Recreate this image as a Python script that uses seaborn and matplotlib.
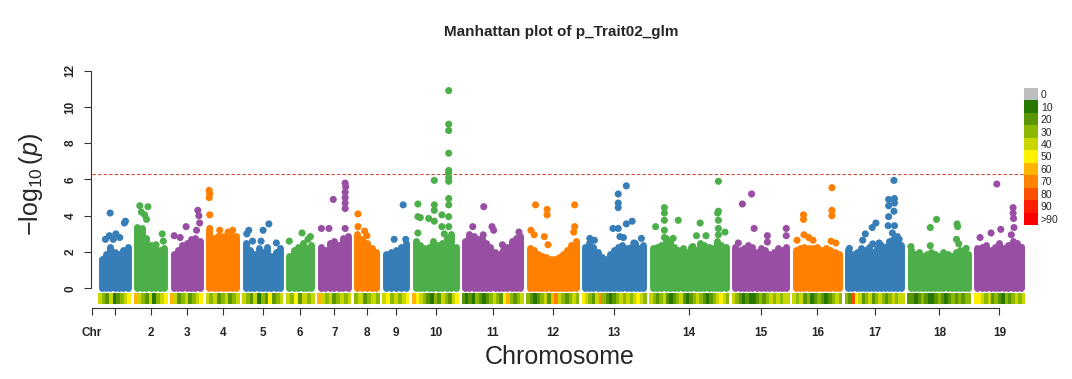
import numpy as np
import pandas as pd
import matplotlib
matplotlib.use('Agg')
import matplotlib.pyplot as plt
from matplotlib.colors import ListedColormap
import seaborn as sns

# chromosomes (lengths in plot units)
chrom_names = [str(i) for i in range(1, 20)]
chrom_lengths = [26, 27, 26, 27, 34, 22, 27, 19, 20, 40, 55, 46, 58, 73, 51, 43, 53, 57, 44]
chrom_gap = 9.55

# upper edge of the dense block of SNPs, left to right, per chromosome
bulk_tops = [
    [1.6, 1.9, 2.3, 2.0, 1.9, 2.1, 2.3],
    [3.4, 3.3, 2.8, 2.4, 2.2, 2.1, 2.2],
    [1.9, 2.1, 2.4, 2.5, 2.7, 2.8, 2.6],
    [3.2, 2.8, 2.9, 2.9, 2.8, 2.9, 2.9],
    [2.5, 2.1, 1.9, 2.2, 2.0, 2.3, 1.8, 2.0, 2.2],
    [1.8, 2.1, 2.3, 2.5, 2.2, 2.4],
    [2.3, 2.1, 2.5, 2.6, 2.4, 2.8, 2.9],
    [3.0, 2.7, 2.5, 2.2, 2.0],
    [1.9, 2.0, 2.1, 2.3, 2.5],
    [2.6, 2.4, 2.2, 2.3, 2.6, 2.4, 2.5, 2.8, 3.0, 2.3],
    [2.6, 3.0, 2.9, 2.7, 2.8, 2.5, 2.3, 2.0, 1.9, 2.1, 2.3, 2.6, 2.8, 2.9],
    [2.2, 2.1, 1.9, 1.8, 1.7, 1.6, 1.6, 1.7, 1.9, 2.1, 2.4, 2.6],
    [2.3, 2.5, 2.3, 2.0, 1.7, 1.6, 1.9, 2.1, 2.3, 2.4, 2.2, 2.3, 2.5, 2.2, 2.4],
    [2.2, 2.3, 2.4, 2.8, 2.6, 2.3, 2.1, 2.2, 2.0, 2.3, 2.1, 2.5, 2.4, 2.3, 2.2, 2.6, 2.4, 2.3],
    [2.3, 2.1, 2.2, 2.4, 2.3, 2.0, 2.2, 2.1, 1.9, 2.0, 2.2, 2.1, 2.3],
    [2.1, 2.2, 2.3, 2.2, 2.2, 2.3, 2.1, 2.2, 2.1, 2.0, 1.9],
    [2.1, 1.9, 2.0, 2.2, 2.1, 2.3, 2.0, 2.2, 2.4, 2.3, 2.6, 2.7, 2.9, 2.4],
    [2.1, 1.9, 2.0, 1.8, 1.9, 2.0, 1.9, 1.8, 2.0, 1.9, 1.8, 2.0, 2.1, 2.0, 1.9],
    [2.2, 2.3, 2.4, 2.1, 2.3, 2.5, 2.2, 2.4, 2.6, 2.5, 2.3],
]

# scattered SNPs above the dense block: chromosome, relative position, -log10(p)
hit_chr = [1, 1, 1, 1, 1, 1, 1, 1,
           2, 2, 2, 2, 2, 2, 2, 2,
           3, 3, 3, 3, 3, 3, 3,
           4, 4, 4, 4, 4, 4, 4, 4,
           5, 5, 5, 5, 5, 5, 5,
           6, 6, 6, 6,
           7, 7, 7, 7, 7, 7, 7, 7, 7, 7,
           8, 8, 8, 8,
           9, 9, 9,
           10, 10, 10, 10, 10, 10, 10, 10, 10, 10, 10, 10, 10, 10, 10, 10, 10, 10, 10, 10, 10, 10, 10, 10,
           11, 11, 11, 11, 11, 11, 11,
           12, 12, 12, 12, 12, 12, 12, 12, 12, 12,
           13, 13, 13, 13, 13, 13, 13, 13, 13, 13, 13, 13, 13, 13,
           14, 14, 14, 14, 14, 14, 14, 14, 14, 14, 14, 14, 14, 14, 14, 14, 14, 14, 14,
           15, 15, 15, 15, 15, 15, 15, 15,
           16, 16, 16, 16, 16, 16, 16, 16, 16, 16, 16,
           17, 17, 17, 17, 17, 17, 17, 17, 17, 17, 17, 17, 17, 17, 17, 17, 17, 17,
           18, 18, 18, 18, 18, 18, 18, 18, 18,
           19, 19, 19, 19, 19, 19, 19, 19, 19, 19]
hit_pos = [0.15, 0.33, 0.30, 0.45, 0.55, 0.70, 0.88, 0.92,
           0.10, 0.40, 0.16, 0.28, 0.35, 0.93, 0.97, 0.70,
           0.93, 0.97, 1.00, 0.48, 0.88, 0.02, 0.25,
           0.00, 0.02, 0.00, 0.02, 0.02, 0.39, 0.70, 0.87,
           0.09, 0.03, 0.68, 0.51, 0.20, 0.45, 0.90,
           0.58, 0.96, 0.00, 0.85,
           0.90, 0.92, 0.90, 0.90, 0.90, 0.90, 0.46, 0.02, 0.30, 0.90,
           0.03, 0.03, 0.38, 0.50,
           0.86, 0.41, 0.99,
           0.83, 0.83, 0.83, 0.83, 0.83, 0.83, 0.83, 0.83, 0.83, 0.83, 0.83, 0.83,
           0.47, 0.06, 0.47, 0.47, 0.06, 0.12, 0.33, 0.47, 0.66, 0.66, 0.06, 0.72,
           0.34, 0.14, 0.49, 0.52, 0.68, 0.98, 0.33,
           0.13, 0.38, 0.38, 0.98, 0.98, 0.96, 0.03, 0.10, 0.32, 0.40,
           0.71, 0.57, 0.57, 0.57, 0.48, 0.57, 0.71, 0.81, 0.60, 0.66, 0.08, 0.16, 0.97, 0.84,
           0.90, 0.90, 0.89, 0.90, 0.90, 0.90, 0.99, 0.16, 0.16, 0.16, 0.16, 0.16, 0.04, 0.35, 0.65, 0.60, 0.73, 0.55, 0.28,
           0.32, 0.14, 0.37, 0.63, 0.63, 1.00, 1.00, 0.06,
           0.84, 0.84, 0.84, 0.18, 0.18, 0.19, 0.03, 0.30, 0.40, 0.82, 0.93,
           0.86, 0.76, 0.87, 0.87, 0.76, 0.86, 0.76, 0.87, 0.75, 0.83, 0.96, 0.52, 0.45, 0.32, 0.27, 0.46, 0.58, 0.02,
           0.45, 0.34, 0.81, 0.82, 0.80, 0.84, 0.97, 0.00, 0.34,
           0.44, 0.81, 0.81, 0.82, 0.83, 0.53, 0.31, 0.06, 0.77, 1.00]
hit_val = [2.7, 4.15, 2.9, 2.7, 3.0, 2.8, 3.6, 3.7,
           4.55, 4.5, 4.2, 4.05, 3.8, 3.0, 2.6, 2.4,
           4.3, 4.0, 3.6, 3.4, 3.2, 2.9, 2.8,
           5.4, 5.2, 5.0, 4.05, 3.3, 3.2, 3.1, 3.2,
           3.2, 3.0, 3.55, 3.2, 2.6, 2.6, 2.5,
           3.05, 2.85, 2.6, 2.7,
           5.8, 5.6, 5.3, 5.0, 4.7, 4.4, 4.9, 3.3, 3.3, 3.3,
           4.1, 3.4, 3.15, 2.9,
           4.6, 2.7, 2.7,
           10.9, 9.05, 8.7, 7.45, 6.5, 6.35, 6.1, 5.9, 4.95, 4.6, 3.95, 3.4,
           5.95, 4.65, 4.6, 4.3, 3.95, 3.9, 3.85, 3.7, 4.05, 3.4, 3.05, 3.0,
           4.5, 3.4, 3.4, 3.2, 2.4, 3.1, 2.95,
           4.6, 4.35, 4.05, 4.6, 3.4, 3.1, 3.2, 2.95, 2.85, 2.4,
           5.65, 5.2, 4.7, 4.45, 3.3, 3.3, 3.55, 3.7, 2.85, 2.8, 2.75, 2.65, 2.75, 2.5,
           5.9, 4.25, 4.15, 3.75, 3.3, 2.95, 3.1, 4.45, 4.15, 3.75, 3.2, 2.8, 3.4, 3.75, 3.6, 2.9, 2.9, 2.3, 2.75,
           5.2, 4.65, 3.3, 2.9, 2.55, 3.3, 2.9, 2.5,
           5.55, 4.3, 4.0, 4.05, 3.8, 2.95, 2.65, 2.8, 2.65, 2.6, 2.5,
           5.95, 4.9, 4.95, 4.7, 4.55, 4.25, 3.95, 3.45, 3.45, 3.05, 2.7, 3.6, 3.35, 3.0, 2.65, 2.45, 2.5, 2.2,
           3.8, 3.35, 3.55, 3.4, 2.7, 2.45, 2.2, 2.3, 2.35,
           5.75, 4.45, 4.15, 3.85, 3.35, 3.25, 3.05, 2.8, 2.95, 2.25]

# SNP density per bin along each chromosome (index into the legend colours)
density_bins = [
    [4, 3, 2, 4, 1, 2, 3, 4, 5],
    [6, 4, 3, 2, 4, 1, 3, 4, 5],
    [6, 4, 2, 3, 4, 2, 3, 4, 5],
    [4, 3, 4, 2, 3, 4, 2, 3, 4],
    [4, 3, 2, 4, 1, 3, 2, 5, 2, 3, 4],
    [4, 3, 5, 2, 4, 3, 4],
    [6, 4, 3, 4, 2, 3, 4, 3, 4],
    [3, 4, 2, 3, 4, 3],
    [4, 5, 3, 4, 3, 4, 5],
    [6, 5, 4, 3, 2, 1, 3, 2, 4, 3, 2, 4, 5],
    [2, 1, 2, 1, 3, 2, 1, 2, 3, 4, 3, 2, 5, 6, 3, 2, 3, 4],
    [3, 2, 1, 2, 3, 4, 2, 6, 7, 4, 3, 2, 3, 4, 3],
    [5, 4, 3, 2, 4, 7, 3, 2, 1, 2, 3, 4, 3, 4, 3, 4, 5, 4, 3],
    [4, 3, 2, 3, 4, 2, 1, 2, 3, 4, 2, 1, 2, 3, 4, 3, 2, 1, 2, 3, 4, 5, 4, 3],
    [4, 3, 2, 1, 2, 1, 1, 2, 3, 2, 3, 4, 3, 4, 3, 4, 4],
    [4, 3, 4, 2, 3, 1, 2, 3, 2, 1, 2, 3, 4, 3],
    [3, 2, 8, 5, 4, 2, 3, 4, 2, 3, 4, 3, 2, 3, 4, 3, 4, 4],
    [2, 2, 1, 2, 3, 2, 1, 1, 2, 3, 2, 1, 2, 3, 2, 3, 2, 3, 3],
    [5, 5, 4, 3, 4, 2, 3, 2, 1, 3, 2, 3, 4, 3, 4],
]

density_labels = ['0', '10', '20', '30', '40', '50', '60', '70', '80', '90', '>90']
density_colors = ['#BEBEBE', '#287800', '#5A9600', '#8CB900', '#C8D700', '#FFF200',
                  '#FFB400', '#FF8200', '#FF5000', '#FF1E00', '#FF0000']
chrom_colors = ['#377EB8', '#4DAF4A', '#984EA3', '#FF7F00']
threshold = 6.3

sns.set_theme(style='white')
plt.rcParams['font.family'] = ['Liberation Sans', 'DejaVu Sans']
plt.rcParams['mathtext.fontset'] = 'custom'
plt.rcParams['mathtext.rm'] = 'Liberation Sans'
plt.rcParams['mathtext.it'] = 'Liberation Sans:italic'

# chromosome start positions
starts = []
pos = chrom_gap
for L in chrom_lengths:
    starts.append(pos)
    pos += L + chrom_gap
starts = np.array(starts)
lengths = np.array(chrom_lengths)
centers = starts + lengths / 2

hits = pd.DataFrame({'chr': hit_chr, 'pos': hit_pos, 'val': hit_val})
hits['x'] = starts[hits['chr'] - 1] + hits['pos'] * lengths[hits['chr'] - 1]
hits['chrom'] = hits['chr'].astype(str)
palette = {str(i + 1): chrom_colors[i % 4] for i in range(19)}

fig = plt.figure(figsize=(10.72, 3.79), dpi=100)
ax = fig.add_axes([91 / 1072, 1 - 308 / 379, 939 / 1072, (308 - 70.7) / 379])

# dense bulk of points: one rounded stem per bin
for i, tops in enumerate(bulk_tops):
    xs = np.linspace(starts[i], starts[i] + lengths[i], len(tops))
    ax.vlines(xs, 0, tops, colors=chrom_colors[i % 4], linewidth=5.0,
              capstyle='round', zorder=2)

sns.scatterplot(data=hits, x='x', y='val', hue='chrom', palette=palette,
                s=26, linewidth=0, legend=False, ax=ax, zorder=3)

# SNP density strip under each chromosome
for i, bins in enumerate(density_bins):
    x0 = starts[i] - 3.5
    w = (lengths[i] + 7) / len(bins)
    ax.bar(x0 + w * np.arange(len(bins)), 0.61, width=w, bottom=-0.87, align='edge',
           color=[density_colors[b] for b in bins], linewidth=0, zorder=1)

ax.hlines(threshold, 0, 932, colors='#D04A3A', linewidth=0.8, linestyles=(0, (3, 2)))

ax.set_xlim(-1, 938)
ax.set_ylim(-1.087, 12)
for s in ['top', 'right']:
    ax.spines[s].set_visible(False)
for s in ['left', 'bottom']:
    ax.spines[s].set_color('#333333')
    ax.spines[s].set_linewidth(0.8)
ax.spines['left'].set_bounds(0, 12)
ax.spines['bottom'].set_bounds(0, centers[-1])

ax.set_yticks(range(0, 13, 2))
ax.set_yticklabels([str(v) for v in range(0, 13, 2)], rotation=90, va='center',
                   fontsize=8.5, fontweight='bold')
ax.set_xticks([0] + list(centers))
ax.set_xticklabels(['Chr', ''] + chrom_names[1:], fontsize=8.5, fontweight='bold')
ax.tick_params(axis='both', direction='out', length=5, width=0.8, color='#333333',
               left=True, bottom=True)
ax.tick_params(axis='y', pad=5.5)
ax.tick_params(axis='x', pad=8.5)
ax.set_xlabel('')
ax.set_ylabel('')

fig.text(31 / 1072, 1 - 185 / 379, r'$-\log_{10}(\mathit{p})$', rotation=90,
         ha='center', va='center', fontsize=18)
fig.text(560 / 1072, 1 - 357 / 379, 'Chromosome', ha='center', va='center', fontsize=18)
fig.text(561 / 1072, 1 - 32 / 379, 'Manhattan plot of p_Trait02_glm', ha='center',
         va='center', fontsize=11, fontweight='bold')

# density legend
lax = fig.add_axes([1024 / 1072, 1 - 225 / 379, 14 / 1072, 137 / 379])
sns.heatmap(np.arange(11).reshape(-1, 1), cmap=ListedColormap(density_colors),
            cbar=False, xticklabels=False, yticklabels=density_labels, ax=lax)
lax.yaxis.tick_right()
lax.tick_params(axis='y', length=0, pad=2, labelsize=7.5)
for t in lax.get_yticklabels():
    t.set_rotation(0)

fig.savefig('out.png', dpi=100)
